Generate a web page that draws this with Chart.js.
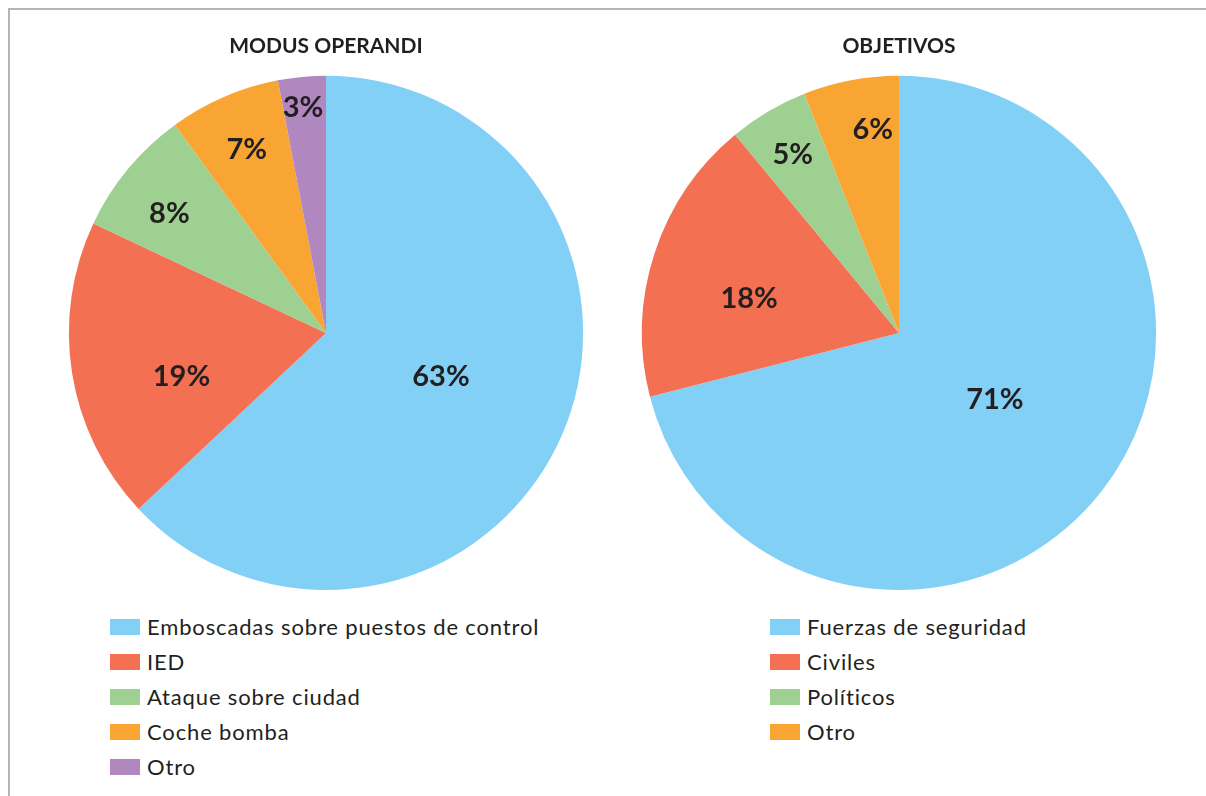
<!DOCTYPE html>
<html>
<head>
<meta charset="utf-8">
<script src="https://cdn.jsdelivr.net/npm/chart.js@4.4.1/dist/chart.umd.min.js"></script>
<style>
  html, body { margin: 0; padding: 0; background: #fff; }
  body { width: 1206px; height: 796px; position: relative; overflow: hidden; font-family: Lato, sans-serif; }
  #marco { position: absolute; left: 8px; top: 8px; width: 1196px; height: 800px; border-top: 2px solid #b5b5b5; border-left: 2px solid #b5b5b5; }
  .caja { position: absolute; top: 30px; width: 560px; height: 560px; }
  .leyenda { position: absolute; top: 609px; margin: 0; padding: 0; list-style: none; color: #231f20; font-size: 22px; letter-spacing: 0.85px; }
  .leyenda li { height: 35px; line-height: 35px; display: flex; align-items: center; }
  .leyenda span { display: inline-block; width: 30px; height: 16px; margin-right: 7px; }
</style>
</head>
<body>
<div id="marco"></div>
<div class="caja" style="left:46px"><canvas id="modus"></canvas></div>
<div class="caja" style="left:619px"><canvas id="objetivos"></canvas></div>
<ul class="leyenda" id="leyModus" style="left:110px"></ul>
<ul class="leyenda" id="leyObj" style="left:770px"></ul>
<script>
// Datos
const modus_labels = ['Emboscadas sobre puestos de control', 'IED', 'Ataque sobre ciudad', 'Coche bomba', 'Otro'];
const modus_data = [63, 19, 8, 7, 3];
const objetivos_labels = ['Fuerzas de seguridad', 'Civiles', 'Políticos', 'Otro'];
const objetivos_data = [71, 18, 5, 6];

const colores_modus = ['#82d0f5', '#f37053', '#9ed092', '#f9a533', '#b088bf'];
const colores_obj = ['#82d0f5', '#f37053', '#9ed092', '#f9a533'];

// Etiquetas de porcentaje dentro de cada porción
// pos: [fracción del ángulo de la porción, fracción del radio]
const etiquetas = {
    id: 'etiquetas',
    afterDatasetsDraw(chart, args, opts) {
        const ctx = chart.ctx;
        const meta = chart.getDatasetMeta(0);
        const data = chart.data.datasets[0].data;
        ctx.save();
        ctx.fillStyle = '#231f20';
        ctx.font = 'bold 29px Lato, sans-serif';
        ctx.textAlign = 'center';
        ctx.textBaseline = 'middle';
        meta.data.forEach((arc, i) => {
            const p = arc.getProps(['x', 'y', 'startAngle', 'endAngle', 'outerRadius'], true);
            const a = p.startAngle + (p.endAngle - p.startAngle) * opts.pos[i][0];
            const r = p.outerRadius * opts.pos[i][1];
            ctx.fillText(data[i] + '%', p.x + Math.cos(a) * r, p.y + Math.sin(a) * r);
        });
        ctx.restore();
    }
};

function crearPastel(id, titulo, labels, data, colores, pos) {
    return new Chart(document.getElementById(id), {
        type: 'pie',
        data: {
            labels: labels,
            datasets: [{ data: data, backgroundColor: colores, borderWidth: 0 }]
        },
        options: {
            responsive: false,
            maintainAspectRatio: false,
            animation: false,
            layout: { padding: 0 },
            plugins: {
                legend: { display: false },
                tooltip: { enabled: false },
                title: {
                    display: true,
                    text: titulo,
                    color: '#231f20',
                    font: { family: 'Lato, sans-serif', size: 21, weight: 'bold' },
                    padding: { top: 4, bottom: 16.6 }
                },
                etiquetas: { pos: pos }
            }
        },
        plugins: [etiquetas]
    });
}

function crearLeyenda(id, labels, colores) {
    const ul = document.getElementById(id);
    labels.forEach((l, i) => {
        const li = document.createElement('li');
        li.innerHTML = '<span style="background:' + colores[i] + '"></span>' + l;
        ul.appendChild(li);
    });
}

document.querySelectorAll('canvas').forEach(c => { c.width = 560; c.height = 560; });

crearPastel('modus', 'MODUS OPERANDI', modus_labels, modus_data, colores_modus,
    [[0.488, 0.478], [0.387, 0.587], [0.418, 0.765], [0.5, 0.776], [0.46, 0.88]]);
crearPastel('objetivos', 'OBJETIVOS', objetivos_labels, objetivos_data, colores_obj,
    [[0.489, 0.455], [0.42, 0.598], [0.49, 0.807], [0.66, 0.798]]);
crearLeyenda('leyModus', modus_labels, colores_modus);
crearLeyenda('leyObj', objetivos_labels, colores_obj);
</script>
</body>
</html>
